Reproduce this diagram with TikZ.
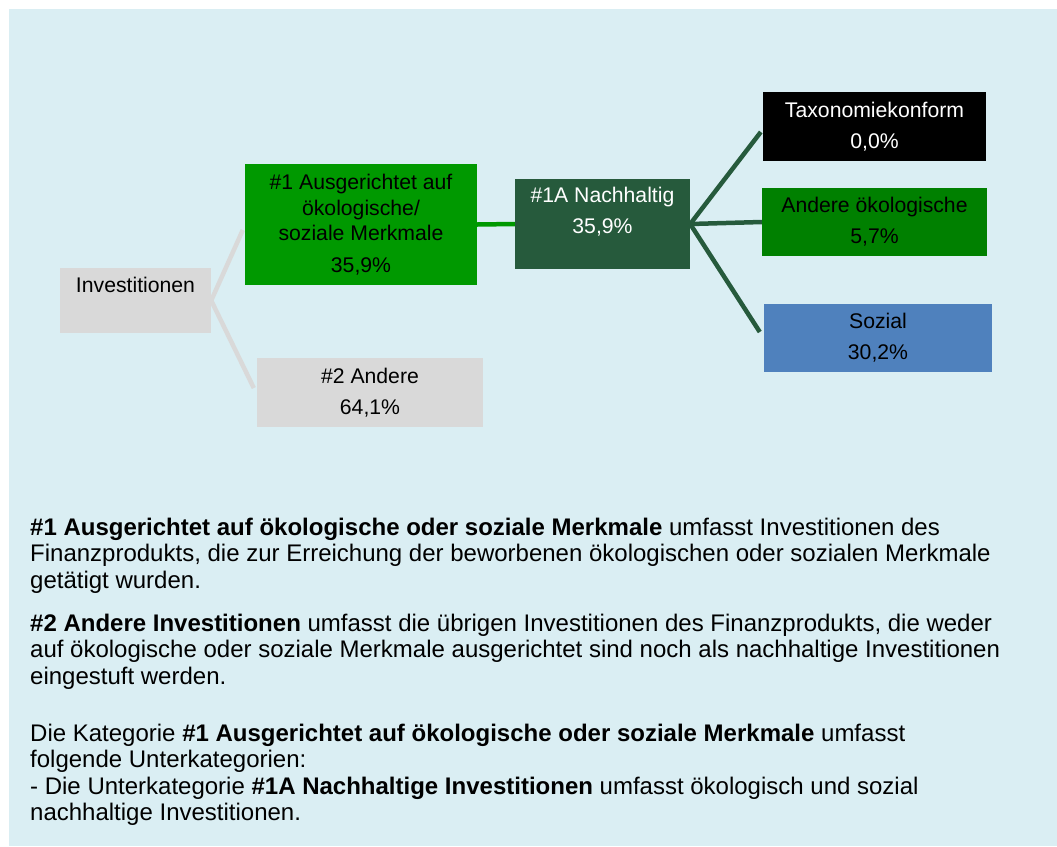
\documentclass[tikz,border=0pt]{standalone}
\usepackage{fontspec}
\setmainfont{Liberation Sans}
\usetikzlibrary{positioning}

\definecolor{bgBlue}{HTML}{DAEEF3}
\definecolor{boxGray}{HTML}{D9D9D9}
\definecolor{boxGreen}{HTML}{009900}
\definecolor{darkGreen}{HTML}{265A3C}
\definecolor{ecoGreen}{HTML}{008000}
\definecolor{socBlue}{HTML}{4F81BD}

\newcommand{\cellfont}{\fontsize{21.2}{25.5}\selectfont}
\newcommand{\notefont}{\fontsize{24}{26.5}\selectfont}

\tikzstyle{cell} = [rectangle, inner sep=0pt, align=center, font=\cellfont]
\tikzstyle{branch} = [line width=4.5pt]

\begin{document}
\begin{tikzpicture}[x=1pt, y=1pt, node distance=0pt]
  \useasboundingbox (0,0) rectangle (1057,-846);
  \fill[bgBlue] (9,-9) rectangle (1057,-846);

  % boxes of the tree
  \node[cell, fill=boxGray, minimum width=151pt, minimum height=65pt, text depth=31pt] (node_Inv) at (135.5,-300.5) {Investitionen};
  \node[cell, fill=boxGreen, minimum width=232pt, minimum height=121pt, right of=node_Inv, xshift=225.5pt, yshift=76pt] (node_One) {\#1 Ausgerichtet auf\\ökologische/\\soziale Merkmale\\[6pt]35,9\%};
  \node[cell, fill=boxGray, minimum width=226pt, minimum height=69pt, right of=node_Inv, xshift=234.5pt, yshift=-92pt] (node_Two) {\#2 Andere\\[5.5pt]64,1\%};
  \node[cell, fill=darkGreen, text=white, minimum width=175pt, minimum height=90pt, text depth=27pt, right of=node_One, xshift=241.5pt, yshift=0.5pt] (node_Nach) {\#1A Nachhaltig\\[5.5pt]35,9\%};

  \node[cell, fill=black, text=white, minimum width=223pt, minimum height=69pt, right of=node_Nach, xshift=272pt, yshift=97.5pt] (node_Tax) {Taxonomiekonform\\[5.5pt]0,0\%};
  \node[cell, fill=ecoGreen, minimum width=225pt, minimum height=68pt, right of=node_Nach, xshift=272pt, yshift=2pt] (node_Eco) {Andere ökologische\\[5.5pt]5,7\%};
  \node[cell, fill=socBlue, minimum width=228pt, minimum height=68pt, right of=node_Nach, xshift=275.5pt, yshift=-114pt] (node_Soz) {Sozial\\[5.5pt]30,2\%};

  % branches
  \draw[branch, boxGray] (node_Inv.east) -- ([xshift=-2pt, yshift=-5.5pt]node_One.west);
  \draw[branch, boxGray] (node_Inv.east) -- ([xshift=-3pt, yshift=4.5pt]node_Two.west);
  \draw[branch, boxGreen] (node_One.east) -- (node_Nach.west);
  \draw[branch, darkGreen] (node_Nach.east) -- ([xshift=-2pt, yshift=-5.5pt]node_Tax.west);
  \draw[branch, darkGreen] (node_Nach.east) -- (node_Eco.west);
  \draw[branch, darkGreen] (node_Nach.east) -- ([xshift=-4pt, yshift=6pt]node_Soz.west);

  % explanations below
  \node[anchor=north west, inner sep=0pt, align=left, font=\notefont] (node_Notes) at (30,-517.5) {%
    \textbf{\#1 Ausgerichtet auf ökologische oder soziale Merkmale} umfasst Investitionen des\\
    Finanzprodukts, die zur Erreichung der beworbenen ökologischen oder sozialen Merkmale\\
    getätigt wurden.\\[16.5pt]
    \textbf{\#2 Andere Investitionen} umfasst die übrigen Investitionen des Finanzprodukts, die weder\\
    auf ökologische oder soziale Merkmale ausgerichtet sind noch als nachhaltige Investitionen\\
    eingestuft werden.\\[30.5pt]
    Die Kategorie \textbf{\#1 Ausgerichtet auf ökologische oder soziale Merkmale} umfasst\\
    folgende Unterkategorien:\\
    - Die Unterkategorie \textbf{\#1A Nachhaltige Investitionen} umfasst ökologisch und sozial\\
    nachhaltige Investitionen.};
\end{tikzpicture}
\end{document}
